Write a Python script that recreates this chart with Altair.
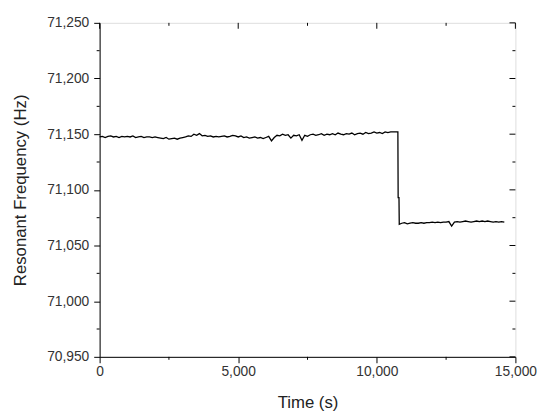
import altair as alt
import pandas as pd

# ---- data ----
upper_t = list(range(0, 10800, 100))
upper_f = [
    71147.5, 71148, 71147, 71148, 71148.5, 71147.5, 71148, 71147, 71148, 71147.5,
    71148, 71147.5, 71148.5, 71147, 71147.5, 71148, 71147, 71147.5, 71147.5, 71147,
    71147.5, 71147, 71146.5, 71146, 71147, 71145.5, 71146, 71146.5, 71145.5, 71146.5,
    71147, 71147.5, 71148.5, 71148, 71150, 71149, 71150.5, 71148.5, 71149, 71148,
    71148.5, 71147.5, 71148, 71147.5, 71148, 71148.5, 71147.5, 71148, 71149, 71148.5,
    71147.5, 71148.5, 71147, 71147.5, 71146.5, 71147, 71147.5, 71146.5, 71147, 71146,
    71147, 71148, 71144, 71147, 71149, 71148.5, 71150, 71149, 71149.5, 71146.5,
    71149, 71148.5, 71149.5, 71144.5, 71149, 71148, 71149.5, 71150, 71149, 71149.5,
    71150.5, 71149, 71150, 71149.5, 71150.5, 71149.5, 71151, 71150, 71149.5, 71150.5,
    71150, 71151, 71149.5, 71150.5, 71151, 71150, 71151.5, 71150.5, 71151, 71152,
    71151, 71151.5, 71150.5, 71152, 71151.5, 71152, 71152, 71152,
]
drop_t = [10760, 10770, 10800, 10810]
drop_f = [71152, 71093, 71093, 71069]
lower_t = list(range(10900, 14700, 100))
lower_f = [
    71070, 71070.5, 71069.5, 71070, 71070.5, 71070, 71070, 71070.5, 71070, 71070.5,
    71070.5, 71071, 71070.5, 71071, 71070.5, 71071, 71071, 71071.5, 71067.5, 71071,
    71071.5, 71071, 71071.5, 71072, 71071.5, 71071, 71071.5, 71072, 71071.5, 71072,
    71071.5, 71072, 71071.5, 71071, 71071.5, 71071, 71071.5, 71071,
]

x_major = [0, 5000, 10000, 15000]
x_minor = [2500, 7500, 12500]
y_major = [70950, 71000, 71050, 71100, 71150, 71200, 71250]
y_minor = [70975, 71025, 71075, 71125, 71175, 71225]

W, H = 422, 339
FONT = "Liberation Sans"

df = pd.DataFrame({
    "t": upper_t + drop_t + lower_t,
    "f": upper_f + drop_f + lower_f,
})
df["i"] = range(len(df))

xs = alt.Scale(domain=[0, 15000], nice=False, zero=False)
ys = alt.Scale(domain=[70950, 71250], nice=False, zero=False)

x_axis = alt.Axis(values=x_major, format=",d", tickSize=6, tickColor="black",
                  domainColor="black", labelFont=FONT, labelFontSize=14,
                  labelColor="#333", labelPadding=2, titleFont=FONT,
                  titleFontSize=17, titleFontWeight="normal", titleColor="#222",
                  titlePadding=16, grid=False, labelFlush=False)
y_axis = alt.Axis(values=y_major, format=",d", tickSize=6, tickColor="black",
                  domainColor="black", labelFont=FONT, labelFontSize=14,
                  labelColor="#333", labelPadding=5, titleFont=FONT,
                  titleFontSize=17, titleFontWeight="normal", titleColor="#222",
                  titlePadding=17, grid=False, labelFlush=False)
XT = "Time (s)"
YT = "Resonant Frequency (Hz)"

line = alt.Chart(df).mark_line(color="black", strokeWidth=1.3).encode(
    x=alt.X("t:Q", scale=xs, title=XT, axis=x_axis),
    y=alt.Y("f:Q", scale=ys, title=YT, axis=y_axis),
    order="i:Q",
)

dxM = pd.DataFrame({"v": x_major})
dxm = pd.DataFrame({"v": x_minor})
dyM = pd.DataFrame({"v": y_major})
dym = pd.DataFrame({"v": y_minor})

def xr(d, y0, y1):
    return alt.Chart(d).mark_rule(color="black", strokeWidth=1).encode(
        x=alt.X("v:Q", scale=xs, title=XT, axis=x_axis), y=alt.value(y0), y2=alt.value(y1))

def yr(d, x0, x1):
    return alt.Chart(d).mark_rule(color="black", strokeWidth=1).encode(
        y=alt.Y("v:Q", scale=ys, title=YT, axis=y_axis), x=alt.value(x0), x2=alt.value(x1))

ticks = [
    xr(dxM, 0, 6), xr(dxm, 0, 3), xr(dxm, H, H + 3),
    yr(dyM, W, W - 6), yr(dym, W, W - 3), yr(dym, 0, -3),
]

chart = alt.layer(line, *ticks).properties(
    width=W, height=H, padding={"left": 4, "top": 5, "right": 5, "bottom": 5}
).configure_view(stroke="black", strokeWidth=1).configure(background="white")

chart.save("out.html", embed_options={"renderer": "svg", "actions": False})
